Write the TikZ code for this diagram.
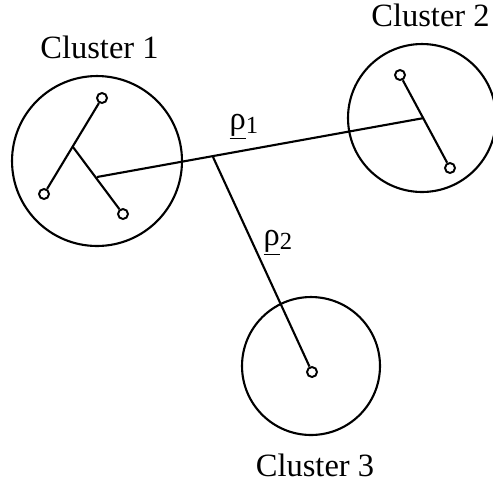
\documentclass[tikz,border=0pt]{standalone}
\usepackage{fontspec}
\setmainfont{Liberation Serif}
\usetikzlibrary{calc}
\tikzset{
  clust/.style={draw,circle,line width=1.2pt,inner sep=0pt},
  leaf/.style={draw,circle,fill=white,minimum size=0.2cm,inner sep=0pt,line width=1.1pt},
  link/.style={line width=1.2pt},
  lab/.style={font=\fontsize{18.5}{22}\selectfont},
}
\newcommand{\rholab}[1]{\underline{ρ}\raisebox{-0.3ex}{\fontsize{14}{16}\selectfont #1}}

\begin{document}
\begin{tikzpicture}[x=0.02cm,y=-0.02cm]
  \useasboundingbox (0,0) rectangle (493,485);

  % the three clusters
  \node[clust,minimum size=3.4cm]  (c1) at (97,161)  {};
  \node[clust,minimum size=2.96cm] (c2) at (422,118) {};
  \node[clust,minimum size=2.76cm] (c3) at (311,366) {};
  \node[lab] (t1) at (99.5,47)  {Cluster 1};
  \node[lab] (t2) at (430.5,15) {Cluster 2};
  \node[lab] (t3) at (315,465)  {Cluster 3};

  % cluster 1 tree
  \node[leaf] (a1) at (102,98)  {};
  \node[leaf] (a2) at (44,194)  {};
  \node[leaf] (a3) at (123,214) {};
  \coordinate (ja) at (73,147);
  \coordinate (jb) at (97,177);
  \draw[link] (a1) -- (a2);
  \draw[link] (ja) -- (a3);

  % cluster 2 tree
  \node[leaf] (b1) at (400,75)  {};
  \node[leaf] (b2) at (450,168) {};
  \coordinate (jc) at (424,118);
  \draw[link] (b1) -- (b2);

  % cluster 3
  \node[leaf] (d1) at (312,372) {};

  % links between clusters
  \coordinate (jm) at (213,157);
  \draw[link] (jb) -- (jc);
  \draw[link] (jm) -- (d1);
  \node[lab] (r1) at (244,127) {\rholab{1}};
  \node[lab] (r2) at (278,243) {\rholab{2}};
\end{tikzpicture}
\end{document}
